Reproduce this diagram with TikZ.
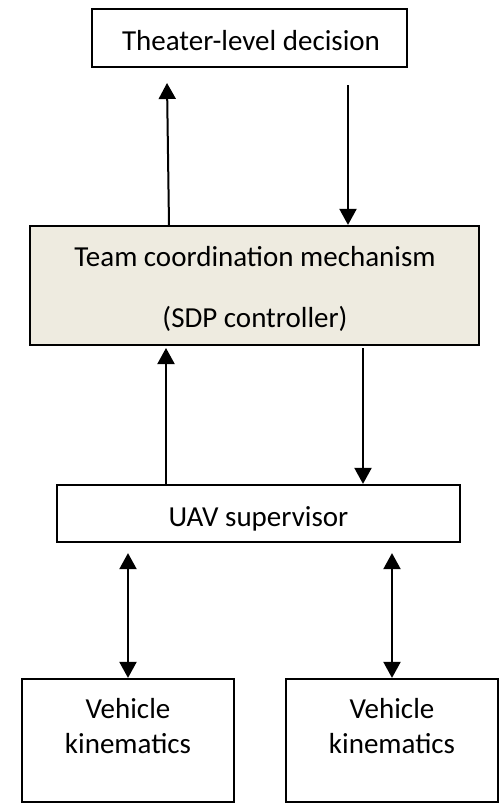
\documentclass[tikz,border=0pt]{standalone}
\usepackage{fontspec}
\setmainfont{Carlito}
\usetikzlibrary{arrows.meta}
\definecolor{teamfill}{RGB}{238,235,224}
\tikzset{
  box/.style={draw=black, line width=2.2pt, inner sep=0pt, fill=white},
  lbl/.style={anchor=base, inner sep=0pt, font=\fontsize{29}{35}\selectfont},
  arr/.style={line width=2pt, -{Triangle[width=17pt,length=16pt]}},
  arrboth/.style={line width=2pt, {Triangle[width=17pt,length=16pt]}-{Triangle[width=17pt,length=16pt]}}
}
\begin{document}
\begin{tikzpicture}[x=1pt,y=-1pt]
  \useasboundingbox (0,0) rectangle (502,804);
  \fill[white] (0,0) rectangle (502,804);

  % boxes
  \node[box, minimum width=315pt, minimum height=58pt] (theater) at (249.5,38) {};
  \node[box, fill=teamfill, minimum width=449pt, minimum height=119pt] (team) at (254.5,285.5) {};
  \node[box, minimum width=403pt, minimum height=57pt] (uav) at (258.5,513.5) {};
  \node[box, minimum width=212pt, minimum height=123pt] (vl) at (128,740.5) {};
  \node[box, minimum width=212pt, minimum height=123pt] (vr) at (392,740.5) {};

  % labels
  \node[lbl] (theatertxt) at (251,50) {Theater-level decision};
  \node[lbl] (teamtxt) at (255,266) {Team coordination mechanism};
  \node[lbl] (sdptxt) at (255,327) {(SDP controller)};
  \node[lbl] (uavtxt) at (258.5,526) {UAV supervisor};
  \node[lbl] (vltxta) at (128,718) {Vehicle};
  \node[lbl] (vltxtb) at (128,753) {kinematics};
  \node[lbl] (vrtxta) at (392,718) {Vehicle};
  \node[lbl] (vrtxtb) at (392,753) {kinematics};

  % free arrow ends
  \coordinate (t1) at (167,83);
  \coordinate (s2) at (348,85);
  \coordinate (t3) at (166,348);
  \coordinate (s4) at (363,348);

  % connectors
  \draw[arr] ([xshift=-85.5pt]team.north) -- (t1);
  \draw[arr] (s2) -- (s2 |- team.north);
  \draw[arr] (t3 |- uav.north) -- (t3);
  \draw[arr] (s4) -- (s4 |- uav.north);
  \draw[arrboth] ([yshift=-10pt]uav.south -| vl.north) -- (vl.north);
  \draw[arrboth] ([yshift=-10pt]uav.south -| vr.north) -- (vr.north);
\end{tikzpicture}
\end{document}
